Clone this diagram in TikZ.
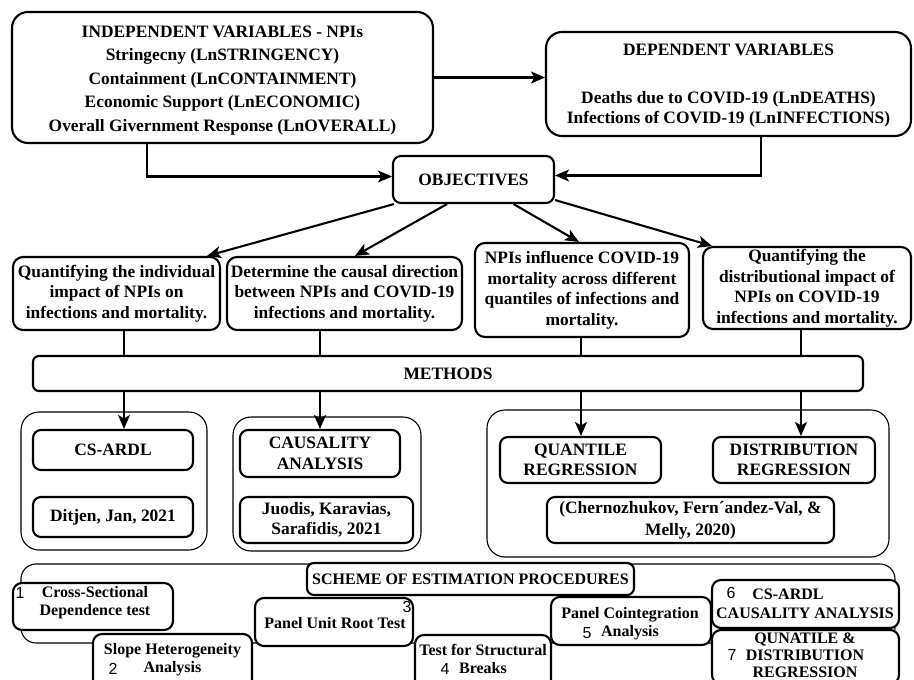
\documentclass[tikz,border=0pt]{standalone}
\usepackage{fontspec}
\setmainfont{Liberation Serif}
\newfontfamily\numfont{Liberation Sans}
\usetikzlibrary{arrows.meta}
\begin{document}
\begin{tikzpicture}[x=1pt,y=-1pt,
  box/.style={draw, fill=white, line width=2.1pt, rounded corners=10pt, align=center, inner sep=0pt,
    font=\bfseries\fontsize{17.4}{20.5}\selectfont},
  sbox/.style={draw, fill=white, line width=2.1pt, rounded corners=9pt, inner sep=0pt},
  group/.style={draw, line width=1.1pt, rounded corners=18pt, inner sep=0pt},
  btxt/.style={align=center, inner sep=0pt, font=\bfseries\fontsize{17.4}{23.5}\selectfont},
  stxt/.style={align=center, inner sep=0pt, font=\bfseries\fontsize{16}{18.5}\selectfont},
  num/.style={inner sep=0pt, font=\numfont\fontsize{16}{18}\selectfont},
  arr/.style={line width=2.1pt, -{Stealth[length=14pt,width=12pt,inset=3.5pt]}},
  ln/.style={line width=2.1pt}]
\useasboundingbox (0,0) rectangle (914,680);
\clip (0,0) rectangle (914,680);

% top row
\node[box, rounded corners=16pt, minimum width=421pt, minimum height=131pt] (ind) at (222.5,77.5) {};
\node[btxt] (indt) at (222.5,80.5)
  {INDEPENDENT VARIABLES - NPIs\\Stringecny (LnSTRINGENCY)\\Containment (LnCONTAINMENT)\\Economic Support (LnECONOMIC)\\Overall Givernment Response (LnOVERALL)};
\node[box, rounded corners=16pt, minimum width=365pt, minimum height=104pt] (dep) at (728.5,84) {};
\node[btxt, font=\bfseries\fontsize{17.4}{20.5}\selectfont] (dept) at (728.5,86)
  {DEPENDENT VARIABLES\\[27pt]Deaths due to COVID-19 (LnDEATHS)\\Infections of COVID-19 (LnINFECTIONS)};
\node[box, rounded corners=8pt, minimum width=161pt, minimum height=47pt] (obj) at (473.5,179.5) {OBJECTIVES};

\draw[arr] (ind.east) -- (ind.east -| dep.west);
\draw[arr] ([xshift=-75.5pt]ind.south) |- ([yshift=3pt]obj.west);
\draw[arr] ([xshift=32.5pt]dep.south) |- ([yshift=4pt]obj.east);

% objectives
\node[box, minimum width=207pt, minimum height=73pt] (o1) at (116.5,293.5)
  {Quantifying the individual\\impact of NPIs on\\infections and mortality.};
\node[box, minimum width=235pt, minimum height=73pt] (o2) at (344.5,293.5)
  {Determine the causal direction\\between NPIs and COVID-19\\infections and mortality.};
\node[box, minimum width=214pt, minimum height=94pt] (o3) at (582,290)
  {NPIs influence COVID-19\\mortality across different\\quantiles of infections and\\mortality.};
\node[box, minimum width=208pt, minimum height=82pt] (o4) at (807,288)
  {Quantifying the\\distributional impact of\\NPIs on COVID-19\\infections and mortality.};

\draw[arr] ([xshift=2pt]obj.south west) -- ([xshift=90.5pt]o1.north);
\draw[arr] ([xshift=-26.5pt]obj.south) -- ([xshift=10.5pt]o2.north);
\draw[arr] ([xshift=40pt]obj.south) -- ([xshift=-3pt]o3.north);
\draw[arr] ([yshift=4pt]obj.south east) -- ([xshift=-95pt]o4.north);

% methods
\node[box, rounded corners=6pt, minimum width=830pt, minimum height=35pt] (meth) at (448,373.5) {METHODS};
\coordinate (c1) at (124,0);
\coordinate (c2) at (320,0);
\coordinate (c3) at (581,0);
\coordinate (c4) at (801,0);
\draw[ln] (o1.south -| c1) -- (meth.north -| c1);
\draw[ln] (o2.south -| c2) -- (meth.north -| c2);
\draw[ln] (o3.south -| c3) -- (meth.north -| c3);
\draw[ln] (o4.south -| c4) -- (meth.north -| c4);

% method groups
\node[group, minimum width=186pt, minimum height=138pt] (g1) at (114,481) {};
\node[group, minimum width=188pt, minimum height=134pt] (g2) at (327,484) {};
\node[group, minimum width=402pt, minimum height=147pt] (g3) at (688,483.5) {};

\node[box, rounded corners=8pt, minimum width=160pt, minimum height=40pt] (csardl) at (113,450) {CS-ARDL};
\node[box, rounded corners=8pt, minimum width=160pt, minimum height=40pt] (ditjen) at (113,517) {Ditjen, Jan, 2021};
\node[box, rounded corners=8pt, minimum width=160pt, minimum height=47pt] (caus) at (320,453.5) {CAUSALITY\\ANALYSIS};
\node[box, rounded corners=8pt, minimum width=173pt, minimum height=46pt] (juodis) at (326.5,520) {Juodis, Karavias,\\Sarafidis, 2021};
\node[box, rounded corners=8pt, minimum width=161pt, minimum height=46pt] (quant) at (580.5,460) {QUANTILE\\REGRESSION};
\node[box, rounded corners=8pt, minimum width=162pt, minimum height=46pt] (distr) at (794,460) {DISTRIBUTION\\REGRESSION};
\node[box, rounded corners=8pt, minimum width=287pt, minimum height=46pt,
  font=\bfseries\fontsize{17.4}{22}\selectfont] (chern) at (690.5,520) {(Chernozhukov, Fern´andez-Val, \&\\Melly, 2020)};

\draw[arr] (meth.south -| c1) -- (csardl.north -| c1);
\draw[arr] (meth.south -| c2) -- (caus.north -| c2);
\draw[arr] (meth.south -| c3) -- (quant.north -| c3);
\draw[arr] (meth.south -| c4) -- (distr.north -| c4);

% scheme of estimation procedures
\node[group, rounded corners=15pt, minimum width=874pt, minimum height=79pt] (sch) at (458,603.5) {};
\node[box, rounded corners=7pt, minimum width=327pt, minimum height=32pt,
  font=\bfseries\fontsize{16}{18}\selectfont] (schbox) at (470.5,579) {SCHEME OF ESTIMATION PROCEDURES};

\node[sbox, minimum width=160pt, minimum height=47pt] (b1) at (93,606.5) {};
\node[stxt] (t1) at (95,602.5) {Cross-Sectional\\Dependence test};
\node[num] (n1) at (20,593) {1};

\node[sbox, minimum width=159pt, minimum height=57pt] (b2) at (172.5,662.5) {};
\node[stxt] (t2) at (172.5,659.5) {Slope Heterogeneity\\Analysis};
\node[num] (n2) at (113,669) {2};

\node[sbox, minimum width=158pt, minimum height=48pt] (b3) at (334,622) {};
\node[stxt] (t3) at (335,623) {Panel Unit Root Test};
\node[num] (n3) at (407,607) {3};

\node[sbox, minimum width=136pt, minimum height=54pt] (b4) at (483,662) {};
\node[stxt] (t4) at (483,659) {Test for Structural\\Breaks};
\node[num] (n4) at (445,669) {4};

\node[sbox, minimum width=160pt, minimum height=48pt] (b5) at (631,621) {};
\node[stxt] (t5) at (630,623.5) {Panel Cointegration\\Analysis};
\node[num] (n5) at (587,633) {5};

\node[sbox, minimum width=187pt, minimum height=48pt] (b6) at (805.5,604) {};
\node[stxt] (t6) at (805,604) {\mbox{CS-ARDL\hspace{34pt}}\\CAUSALITY ANALYSIS};
\node[num] (n6) at (731,593) {6};

\node[sbox, minimum width=187pt, minimum height=54pt] (b7) at (805.5,657) {};
\node[stxt, font=\bfseries\fontsize{16}{17}\selectfont] (t7) at (805,655) {QUNATILE \&\\DISTRIBUTION\\REGRESSION};
\node[num] (n7) at (732,655) {7};
\end{tikzpicture}
\end{document}
